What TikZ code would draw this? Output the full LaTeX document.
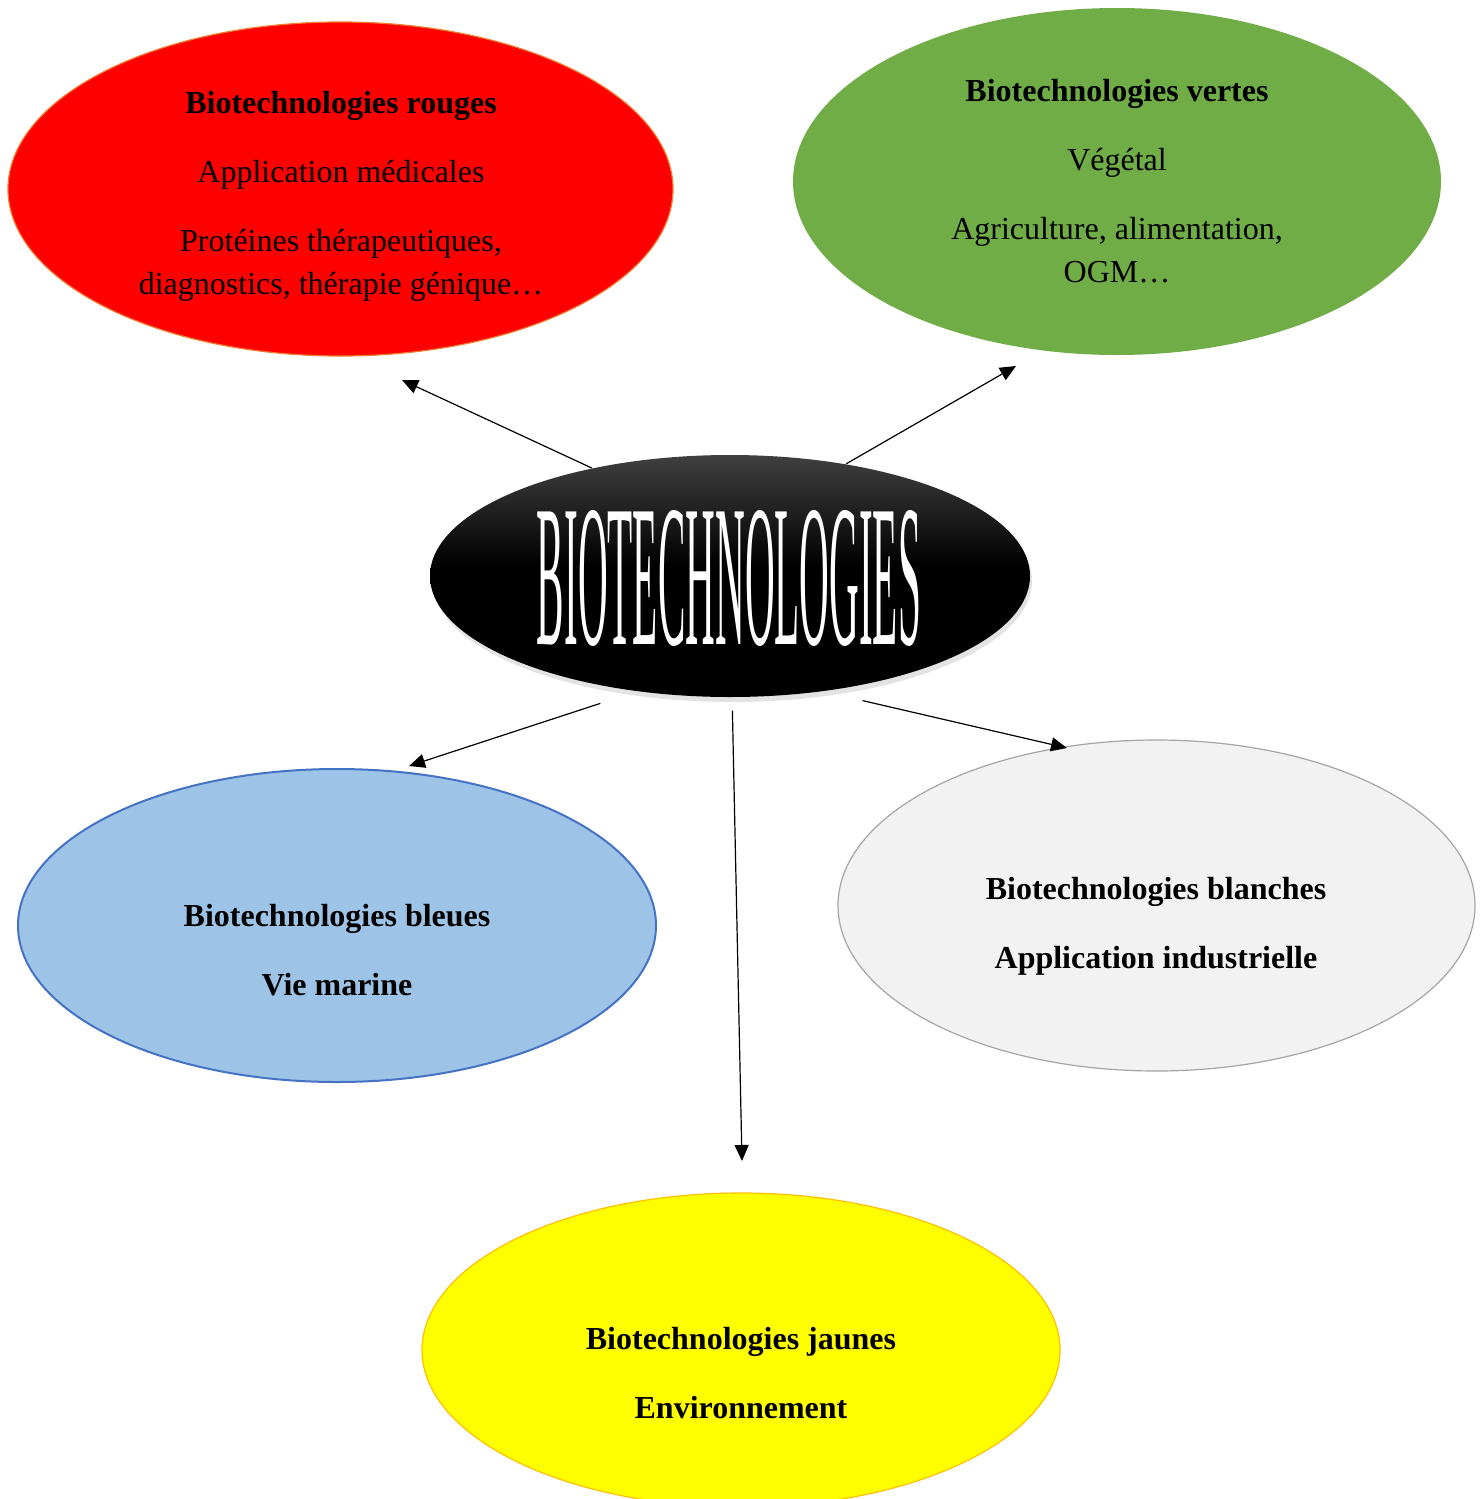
\documentclass[tikz,border=0pt]{standalone}
\usepackage{fontspec}
\setmainfont{Liberation Serif}
\usepackage{graphicx}
\usetikzlibrary{shapes.geometric,arrows.meta,shadows}

\definecolor{redFill}{RGB}{255,0,0}
\definecolor{redLine}{RGB}{237,125,49}
\definecolor{greenFill}{RGB}{112,173,71}
\definecolor{blueFill}{RGB}{157,195,230}
\definecolor{blueLine}{RGB}{68,114,196}
\definecolor{whiteFill}{RGB}{242,242,242}
\definecolor{whiteLine}{RGB}{165,165,165}
\definecolor{yellowFill}{RGB}{255,255,0}
\definecolor{yellowLine}{RGB}{255,192,0}

\pgfdeclareverticalshading{bioshade}{100bp}{color(0bp)=(black); color(52bp)=(black); color(75bp)=(black!75); color(100bp)=(black!75)}

\tikzset{
  bubble/.style={ellipse, inner sep=0pt, line width=0.6pt},
  bubbletext/.style={align=center, inner sep=0pt, font=\fontsize{16}{21.5}\selectfont},
  arr/.style={-{Triangle[length=8pt,width=7pt]}, line width=0.6pt}
}

\begin{document}
\begin{tikzpicture}[x=0.5pt,y=-0.5pt]
\useasboundingbox (0,0) rectangle (1483,1499);

%Ellipses
\node (red) [bubble, draw=redLine, fill=redFill, minimum width=332.5pt, minimum height=167pt] at (340.5,189) {};
\node (green) [bubble, fill=greenFill, minimum width=324pt, minimum height=173.5pt] at (1117,181.5) {};
\node (blue) [bubble, draw=blueLine, line width=1pt, fill=blueFill, minimum width=319pt, minimum height=156.5pt] at (337,925.5) {};
\node (white) [bubble, draw=whiteLine, fill=whiteFill, minimum width=318.5pt, minimum height=165.5pt] at (1156.5,905.5) {};
\node (yellow) [bubble, draw=yellowLine, fill=yellowFill, minimum width=319pt, minimum height=157pt] at (741,1350) {};
\node (bio) [bubble, shading=bioshade,
  drop shadow={opacity=0.22, shadow xshift=1pt, shadow yshift=-2.5pt},
  minimum width=300pt, minimum height=121pt] at (730,576) {};

% Text Node
\node (bioText) at (729,578) {\resizebox{192pt}{67pt}{\textcolor{white}{BIOTECHNOLOGIES}}};
\node (redText) [bubbletext] at (341,196) {\textbf{Biotechnologies rouges}\\[13pt]Application médicales\\[13pt]Protéines thérapeutiques,\\diagnostics, thérapie génique…};
\node (greenText) [bubbletext] at (1117,181) {\textbf{Biotechnologies vertes}\\[13pt]Végétal\\[13pt]Agriculture, alimentation,\\OGM…};
\node (blueText) [bubbletext] at (337,950) {\textbf{Biotechnologies bleues}\\[13pt]\textbf{Vie marine}};
\node (whiteText) [bubbletext] at (1156,926) {\textbf{Biotechnologies blanches}\\[13pt]\textbf{Application industrielle}};
\node (yellowText) [bubbletext] at (741,1373) {\textbf{Biotechnologies jaunes}\\[13pt]\textbf{Environnement}};

%Arrow tips
\coordinate (toRed) at (402,380);
\coordinate (toGreen) at (1016,366);
\coordinate (toBlue) at (409,766);
\coordinate (toYellow) at (742,1161);
\coordinate (toWhite) at (1067,748);

%Arrows
\draw [arr] (bio.142) -- (toRed);
\draw [arr] (bio.44) -- (toGreen);
\draw [arr, shorten <=19pt] (bio.231.6) -- (toBlue);
\draw [arr, shorten <=6.5pt] (bio.271) -- (toYellow);
\draw [arr, shorten <=20pt] (bio.309) -- (toWhite);
\end{tikzpicture}
\end{document}
